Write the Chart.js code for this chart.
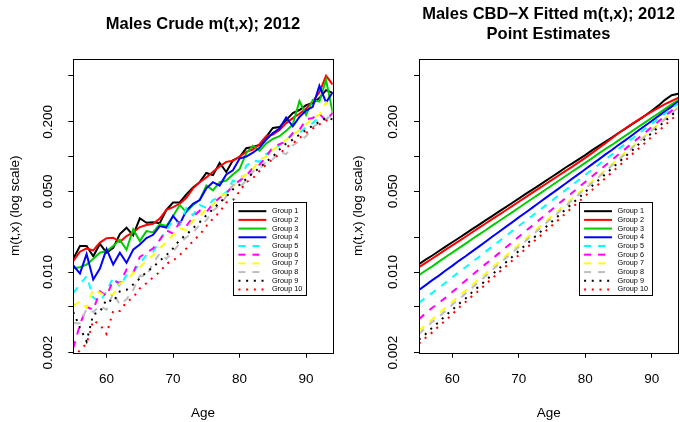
<!DOCTYPE html>
<html>
<head>
<meta charset="utf-8">
<title>Males m(t,x) 2012</title>
<script src="https://cdn.jsdelivr.net/npm/chart.js@4"></script>
<style>
    html, body { margin: 0; padding: 0; background: #fff; overflow: hidden; width: 680px; height: 422px; }
    canvas { position: absolute; top: 0; }
    #crudeChart { left: 0; }
    #fitChart { left: 340px; }
</style>
</head>
<body>
<canvas id="crudeChart" width="406" height="422"></canvas>
<canvas id="fitChart" width="417" height="422"></canvas>
<script>
// data
var ages = [55, 56, 57, 58, 59, 60, 61, 62, 63, 64, 65, 66, 67, 68, 69, 70, 71, 72, 73, 74,
            75, 76, 77, 78, 79, 80, 81, 82, 83, 84, 85, 86, 87, 88, 89, 90, 91, 92, 93, 94];
var groupNames = ["Group 1", "Group 2", "Group 3", "Group 4", "Group 5",
                  "Group 6", "Group 7", "Group 8", "Group 9", "Group 10"];

var xTicks = [60, 70, 80, 90];
var yTicks = [0.002, 0.005, 0.01, 0.02, 0.05, 0.1, 0.2, 0.5];
var yTickLabels = ["0.002", "", "0.010", "", "0.050", "", "0.200", ""];

// crude rates
var crude1 = [0.0130, 0.0168, 0.0168, 0.0137, 0.0175, 0.0147, 0.0162, 0.0213, 0.0242, 0.0208,
              0.0292, 0.0267, 0.0270, 0.0265, 0.0345, 0.0400, 0.0400, 0.0470, 0.0540, 0.0600,
              0.0720, 0.0690, 0.0880, 0.0735, 0.0930, 0.0990, 0.1180, 0.1210, 0.1260, 0.1480,
              0.1770, 0.1800, 0.2070, 0.2380, 0.2530, 0.2790, 0.2910, 0.3210, 0.3760, 0.3550];
var crude2 = [0.0125, 0.0150, 0.0160, 0.0154, 0.0180, 0.0196, 0.0198, 0.0182, 0.0205, 0.0220,
              0.0245, 0.0255, 0.0262, 0.0290, 0.0345, 0.0365, 0.0390, 0.0440, 0.0530, 0.0600,
              0.0660, 0.0740, 0.0820, 0.0900, 0.0920, 0.1000, 0.1100, 0.1150, 0.1280, 0.1500,
              0.1550, 0.1700, 0.1950, 0.2150, 0.2350, 0.2600, 0.3000, 0.3600, 0.5000, 0.4200];
var crude3 = [0.0108, 0.0110, 0.0116, 0.0130, 0.0147, 0.0152, 0.0168, 0.0190, 0.0156, 0.0235,
              0.0185, 0.0226, 0.0220, 0.0260, 0.0250, 0.0306, 0.0380, 0.0330, 0.0380, 0.0420,
              0.0560, 0.0510, 0.0600, 0.0620, 0.0700, 0.0780, 0.1070, 0.1240, 0.1120, 0.1300,
              0.1420, 0.1500, 0.1670, 0.1900, 0.3030, 0.2300, 0.3100, 0.3000, 0.4600, 0.2400];
var crude4 = [0.0114, 0.0097, 0.0143, 0.0086, 0.0107, 0.0158, 0.0116, 0.0147, 0.0120, 0.0156,
              0.0173, 0.0197, 0.0210, 0.0250, 0.0242, 0.0306, 0.0260, 0.0340, 0.0390, 0.0420,
              0.0530, 0.0600, 0.0560, 0.0700, 0.0760, 0.0960, 0.1000, 0.1080, 0.1190, 0.1400,
              0.1600, 0.1750, 0.2180, 0.1830, 0.2200, 0.2500, 0.2700, 0.4100, 0.2950, 0.3600];
var crude5 = [0.0066, 0.0078, 0.0092, 0.0060, 0.0055, 0.0068, 0.0090, 0.0075, 0.0094, 0.0100,
              0.0118, 0.0141, 0.0150, 0.0189, 0.0230, 0.0280, 0.0260, 0.0356, 0.0310, 0.0380,
              0.0360, 0.0420, 0.0450, 0.0490, 0.0620, 0.0580, 0.0830, 0.0930, 0.0900, 0.1050,
              0.1150, 0.1250, 0.1410, 0.1550, 0.1600, 0.1800, 0.1950, 0.2200, 0.2100, 0.2400];
var crude6 = [0.0022, 0.0035, 0.0050, 0.0047, 0.0068, 0.0062, 0.0085, 0.0080, 0.0105, 0.0098,
              0.0135, 0.0147, 0.0160, 0.0190, 0.0230, 0.0215, 0.0270, 0.0250, 0.0300, 0.0340,
              0.0330, 0.0390, 0.0440, 0.0480, 0.0560, 0.0620, 0.0680, 0.0800, 0.0850, 0.1000,
              0.1200, 0.1280, 0.1350, 0.1600, 0.1700, 0.2100, 0.2160, 0.2350, 0.2040, 0.2400];
var crude7 = [0.0051, 0.0056, 0.0049, 0.0071, 0.0066, 0.0062, 0.0064, 0.0080, 0.0085, 0.0098,
              0.0110, 0.0125, 0.0140, 0.0160, 0.0183, 0.0210, 0.0240, 0.0230, 0.0281, 0.0300,
              0.0350, 0.0380, 0.0450, 0.0480, 0.0550, 0.0640, 0.0700, 0.0780, 0.0940, 0.1000,
              0.1150, 0.1250, 0.1400, 0.1550, 0.1700, 0.1900, 0.2180, 0.2300, 0.2950, 0.2500];
var crude8 = [0.0036, 0.0036, 0.0048, 0.0045, 0.0051, 0.0047, 0.0066, 0.0052, 0.0058, 0.0070,
              0.0093, 0.0092, 0.0120, 0.0145, 0.0130, 0.0150, 0.0178, 0.0200, 0.0220, 0.0256,
              0.0280, 0.0340, 0.0380, 0.0450, 0.0570, 0.0540, 0.0620, 0.0740, 0.0780, 0.0900,
              0.0950, 0.1100, 0.1050, 0.1250, 0.1360, 0.1500, 0.1800, 0.1950, 0.2100, 0.2300];
var crude9 = [0.0045, 0.0033, 0.0025, 0.0043, 0.0045, 0.0058, 0.0055, 0.0068, 0.0070, 0.0078,
              0.0088, 0.0100, 0.0110, 0.0125, 0.0140, 0.0160, 0.0190, 0.0210, 0.0240, 0.0270,
              0.0310, 0.0350, 0.0400, 0.0450, 0.0520, 0.0570, 0.0640, 0.0720, 0.0800, 0.0900,
              0.1000, 0.1150, 0.1300, 0.1400, 0.1550, 0.1700, 0.1850, 0.2000, 0.2150, 0.2100];
var crude10 = [0.0018, 0.0021, 0.0024, 0.0038, 0.0035, 0.0029, 0.0046, 0.0046, 0.0055, 0.0060,
               0.0072, 0.0080, 0.0090, 0.0100, 0.0118, 0.0125, 0.0140, 0.0160, 0.0185, 0.0210,
               0.0250, 0.0290, 0.0330, 0.0400, 0.0420, 0.0500, 0.0600, 0.0650, 0.0750, 0.0850,
               0.0950, 0.1050, 0.1200, 0.1300, 0.1450, 0.1600, 0.1750, 0.1900, 0.2050, 0.2000];

// CBD-X fitted rates
var fit1 = [0.0117, 0.0128, 0.0139, 0.0152, 0.0166, 0.0181, 0.0197, 0.0215, 0.0235, 0.0256,
            0.0280, 0.0305, 0.0333, 0.0363, 0.0396, 0.0432, 0.0472, 0.0514, 0.0561, 0.0612,
            0.0668, 0.0729, 0.0800, 0.0868, 0.0946, 0.103, 0.113, 0.123, 0.134, 0.146,
            0.160, 0.174, 0.190, 0.207, 0.226, 0.249, 0.276, 0.310, 0.340, 0.350];
var fit2 = [0.0110, 0.0120, 0.0131, 0.0143, 0.0156, 0.0170, 0.0185, 0.0202, 0.0221, 0.0241,
            0.0263, 0.0287, 0.0313, 0.0341, 0.0372, 0.0406, 0.0443, 0.0484, 0.0528, 0.0576,
            0.0628, 0.0685, 0.0747, 0.0815, 0.0890, 0.0975, 0.107, 0.118, 0.130, 0.144,
            0.159, 0.175, 0.191, 0.208, 0.226, 0.245, 0.264, 0.284, 0.303, 0.322];
var fit3 = [0.0094, 0.0103, 0.0112, 0.0123, 0.0135, 0.0147, 0.0161, 0.0176, 0.0193, 0.0211,
            0.0230, 0.0252, 0.0275, 0.0301, 0.0329, 0.0360, 0.0394, 0.0431, 0.0471, 0.0516,
            0.0564, 0.0617, 0.0675, 0.0738, 0.0807, 0.0882, 0.0965, 0.106, 0.116, 0.126,
            0.138, 0.151, 0.165, 0.181, 0.198, 0.216, 0.236, 0.259, 0.283, 0.309];
var fit4 = [0.0070, 0.0077, 0.0085, 0.0093, 0.0103, 0.0113, 0.0125, 0.0137, 0.0151, 0.0166,
            0.0183, 0.0202, 0.0222, 0.0245, 0.0269, 0.0297, 0.0326, 0.0359, 0.0396, 0.0436,
            0.0480, 0.0528, 0.0582, 0.0640, 0.0705, 0.0776, 0.0855, 0.0941, 0.104, 0.114,
            0.126, 0.138, 0.152, 0.168, 0.185, 0.203, 0.224, 0.246, 0.271, 0.299];
var fit5 = [0.0054, 0.0060, 0.0066, 0.0073, 0.0081, 0.0090, 0.0100, 0.0110, 0.0122, 0.0135,
            0.0150, 0.0166, 0.0184, 0.0204, 0.0226, 0.0250, 0.0277, 0.0306, 0.0339, 0.0376,
            0.0416, 0.0461, 0.0510, 0.0565, 0.0626, 0.0693, 0.0768, 0.0850, 0.0942, 0.104,
            0.116, 0.128, 0.142, 0.157, 0.174, 0.192, 0.213, 0.236, 0.261, 0.289];
var fit6 = [0.0039, 0.0044, 0.0049, 0.0054, 0.0060, 0.0067, 0.0075, 0.0084, 0.0094, 0.0105,
            0.0117, 0.0130, 0.0145, 0.0162, 0.0181, 0.0202, 0.0225, 0.0251, 0.0280, 0.0312,
            0.0348, 0.0389, 0.0434, 0.0484, 0.0540, 0.0602, 0.0672, 0.0750, 0.0836, 0.0933,
            0.104, 0.116, 0.130, 0.145, 0.161, 0.180, 0.201, 0.224, 0.250, 0.279];
var fit7 = [0.0031, 0.0035, 0.0039, 0.0044, 0.0049, 0.0055, 0.0062, 0.0069, 0.0077, 0.0087,
            0.0097, 0.0109, 0.0122, 0.0137, 0.0154, 0.0172, 0.0193, 0.0217, 0.0243, 0.0272,
            0.0305, 0.0343, 0.0384, 0.0431, 0.0483, 0.0541, 0.0607, 0.0680, 0.0763, 0.0855,
            0.0959, 0.108, 0.121, 0.135, 0.152, 0.170, 0.191, 0.214, 0.239, 0.269];
var fit8 = [0.0029, 0.0033, 0.0037, 0.0041, 0.0046, 0.0052, 0.0058, 0.0065, 0.0073, 0.0082,
            0.0092, 0.0104, 0.0117, 0.0131, 0.0147, 0.0165, 0.0185, 0.0208, 0.0233, 0.0262,
            0.0294, 0.0330, 0.0371, 0.0416, 0.0468, 0.0525, 0.0590, 0.0662, 0.0743, 0.0834,
            0.0937, 0.105, 0.118, 0.133, 0.149, 0.167, 0.188, 0.211, 0.237, 0.266];
var fit9 = [0.0026, 0.0029, 0.0033, 0.0037, 0.0042, 0.0047, 0.0053, 0.0059, 0.0067, 0.0075,
            0.0084, 0.0095, 0.0107, 0.0120, 0.0135, 0.0152, 0.0171, 0.0192, 0.0216, 0.0243,
            0.0274, 0.0308, 0.0347, 0.0390, 0.0438, 0.0493, 0.0555, 0.0624, 0.0702, 0.0790,
            0.0888, 0.0999, 0.112, 0.127, 0.142, 0.160, 0.180, 0.203, 0.228, 0.256];
var fit10 = [0.0024, 0.0027, 0.0030, 0.0034, 0.0038, 0.0043, 0.0049, 0.0055, 0.0062, 0.0069,
             0.0078, 0.0088, 0.0099, 0.0111, 0.0125, 0.0140, 0.0158, 0.0178, 0.0200, 0.0225,
             0.0253, 0.0284, 0.0320, 0.0360, 0.0405, 0.0455, 0.0512, 0.0576, 0.0648, 0.0729,
             0.0820, 0.0922, 0.104, 0.117, 0.131, 0.148, 0.166, 0.187, 0.210, 0.237];

var crudeSeries = [crude1, crude2, crude3, crude4, crude5, crude6, crude7, crude8, crude9, crude10];
var fitSeries = [fit1, fit2, fit3, fit4, fit5, fit6, fit7, fit8, fit9, fit10];

// R default palette + lty 1/2/3
var lineColors = ["#000000", "#FF0000", "#00CD00", "#0000FF", "#00FFFF",
                  "#FF00FF", "#FFFF00", "#BEBEBE", "#000000", "#FF0000"];
var lineDashes = [[], [], [], [], [7, 7], [7, 7], [7, 7], [7, 7], [2, 5.7], [2, 5.7]];

Chart.defaults.font.family = "'Liberation Sans', Arial, Helvetica, sans-serif";
Chart.defaults.color = "#000";

// box round the plot region
var frameBox = {
    id: "frameBox",
    afterDatasetsDraw: function(chart) {
        var a = chart.chartArea;
        var ctx = chart.ctx;
        ctx.save();
        ctx.strokeStyle = "#000";
        ctx.lineWidth = 1;
        ctx.setLineDash([]);
        ctx.strokeRect(Math.round(a.left) + 0.5, Math.round(a.top) + 0.5,
                       Math.round(a.right) - Math.round(a.left), Math.round(a.bottom) - Math.round(a.top));
        ctx.restore();
    }
};

// legend box inside the plot, anchored at data coords like R legend(x, y)
var boxLegend = {
    id: "boxLegend",
    afterDatasetsDraw: function(chart, args, opts) {
        var ctx = chart.ctx;
        var x0 = chart.scales.x.getPixelForValue(opts.atX);
        var y0 = chart.scales.y.getPixelForValue(opts.atY);
        var w = 73.4, h = 93.3;
        ctx.save();
        ctx.fillStyle = "#fff";
        ctx.fillRect(x0, y0, w, h);
        ctx.strokeStyle = "#000";
        ctx.lineWidth = 1;
        ctx.setLineDash([]);
        ctx.strokeRect(Math.round(x0) + 0.5, Math.round(y0) + 0.5, Math.round(w), Math.round(h));
        ctx.font = "7.3px 'Liberation Sans', Arial, sans-serif";
        ctx.textBaseline = "middle";
        ctx.textAlign = "left";
        chart.data.datasets.forEach(function(ds, i) {
            var y = y0 + 9.3 + i * 8.7;
            ctx.beginPath();
            ctx.strokeStyle = ds.borderColor;
            ctx.lineWidth = 2;
            ctx.lineCap = "butt";
            ctx.setLineDash(ds.borderDash);
            ctx.moveTo(x0 + 5.5, y);
            ctx.lineTo(x0 + 33.4, y);
            ctx.stroke();
            ctx.setLineDash([]);
            ctx.fillStyle = "#000";
            ctx.fillText(ds.label, x0 + 39, y);
        });
        ctx.restore();
    }
};

function makeChart(canvasId, titleText, titlePad, series, yAxisWidth, spareWidth, yTitlePad) {
    var datasets = series.map(function(vals, i) {
        return {
            label: groupNames[i],
            data: ages.map(function(a, k) { return { x: a, y: vals[k] }; }),
            borderColor: lineColors[i],
            borderDash: lineDashes[i],
            borderWidth: 2,
            borderCapStyle: "butt",
            pointRadius: 0,
            tension: 0,
            fill: false,
            order: series.length - i
        };
    });

    return new Chart(document.getElementById(canvasId), {
        type: "line",
        data: { datasets: datasets },
        options: {
            responsive: false,
            animation: false,
            events: [],
            layout: { padding: 0 },
            plugins: {
                legend: { display: false },
                tooltip: { enabled: false },
                title: {
                    display: true,
                    text: titleText,
                    color: "#000",
                    font: { size: 16.5, weight: "bold", lineHeight: 1.212 },
                    padding: titlePad
                },
                boxLegend: { atX: 79, atY: 0.0405 }
            },
            scales: {
                x: {
                    type: "linear",
                    min: 55,
                    max: 94,
                    afterBuildTicks: function(s) { s.ticks = xTicks.map(function(v) { return { value: v }; }); },
                    afterFit: function(s) { s.height = 69.3; },
                    ticks: { font: { size: 13.5 }, color: "#000", padding: 13.5, autoSkip: false, maxRotation: 0 },
                    grid: { drawOnChartArea: false, color: "#000", tickLength: 5 },
                    border: { display: false },
                    title: { display: true, text: "Age", color: "#000", font: { size: 13.5 }, padding: { top: 0, bottom: 0.3 } }
                },
                y: {
                    type: "logarithmic",
                    position: "left",
                    min: 0.002,
                    max: 0.7,
                    afterBuildTicks: function(s) { s.ticks = yTicks.map(function(v) { return { value: v }; }); },
                    afterFit: function(s) { s.width = yAxisWidth; },
                    ticks: {
                        font: { size: 13.5 }, color: "#000", padding: 3.5, autoSkip: false,
                        minRotation: 90, maxRotation: 90, crossAlign: "center",
                        callback: function(v, i) { return yTickLabels[i]; }
                    },
                    grid: { drawOnChartArea: false, color: "#000", tickLength: 5 },
                    border: { display: false },
                    title: { display: true, text: "m(t,x) (log scale)", color: "#000", font: { size: 13.5 }, padding: { top: yTitlePad, bottom: 0 } }
                },
                // empty axis on the right so the title centres over the plot
                spare: {
                    type: "linear",
                    position: "right",
                    grid: { display: false },
                    ticks: { display: false },
                    border: { display: false },
                    afterFit: function(s) { s.width = spareWidth; }
                }
            }
        },
        plugins: [frameBox, boxLegend]
    });
}

makeChart("crudeChart", "Males Crude m(t,x); 2012", { top: 14.2, bottom: 24.8 },
          crudeSeries, 73.3, 73.3, 7.2);
makeChart("fitChart", ["Males CBD\u2212X Fitted m(t,x); 2012", "Point Estimates"], { top: 4.2, bottom: 14.8 },
          fitSeries, 79, 78.7, 10.5);
</script>
</body>
</html>
